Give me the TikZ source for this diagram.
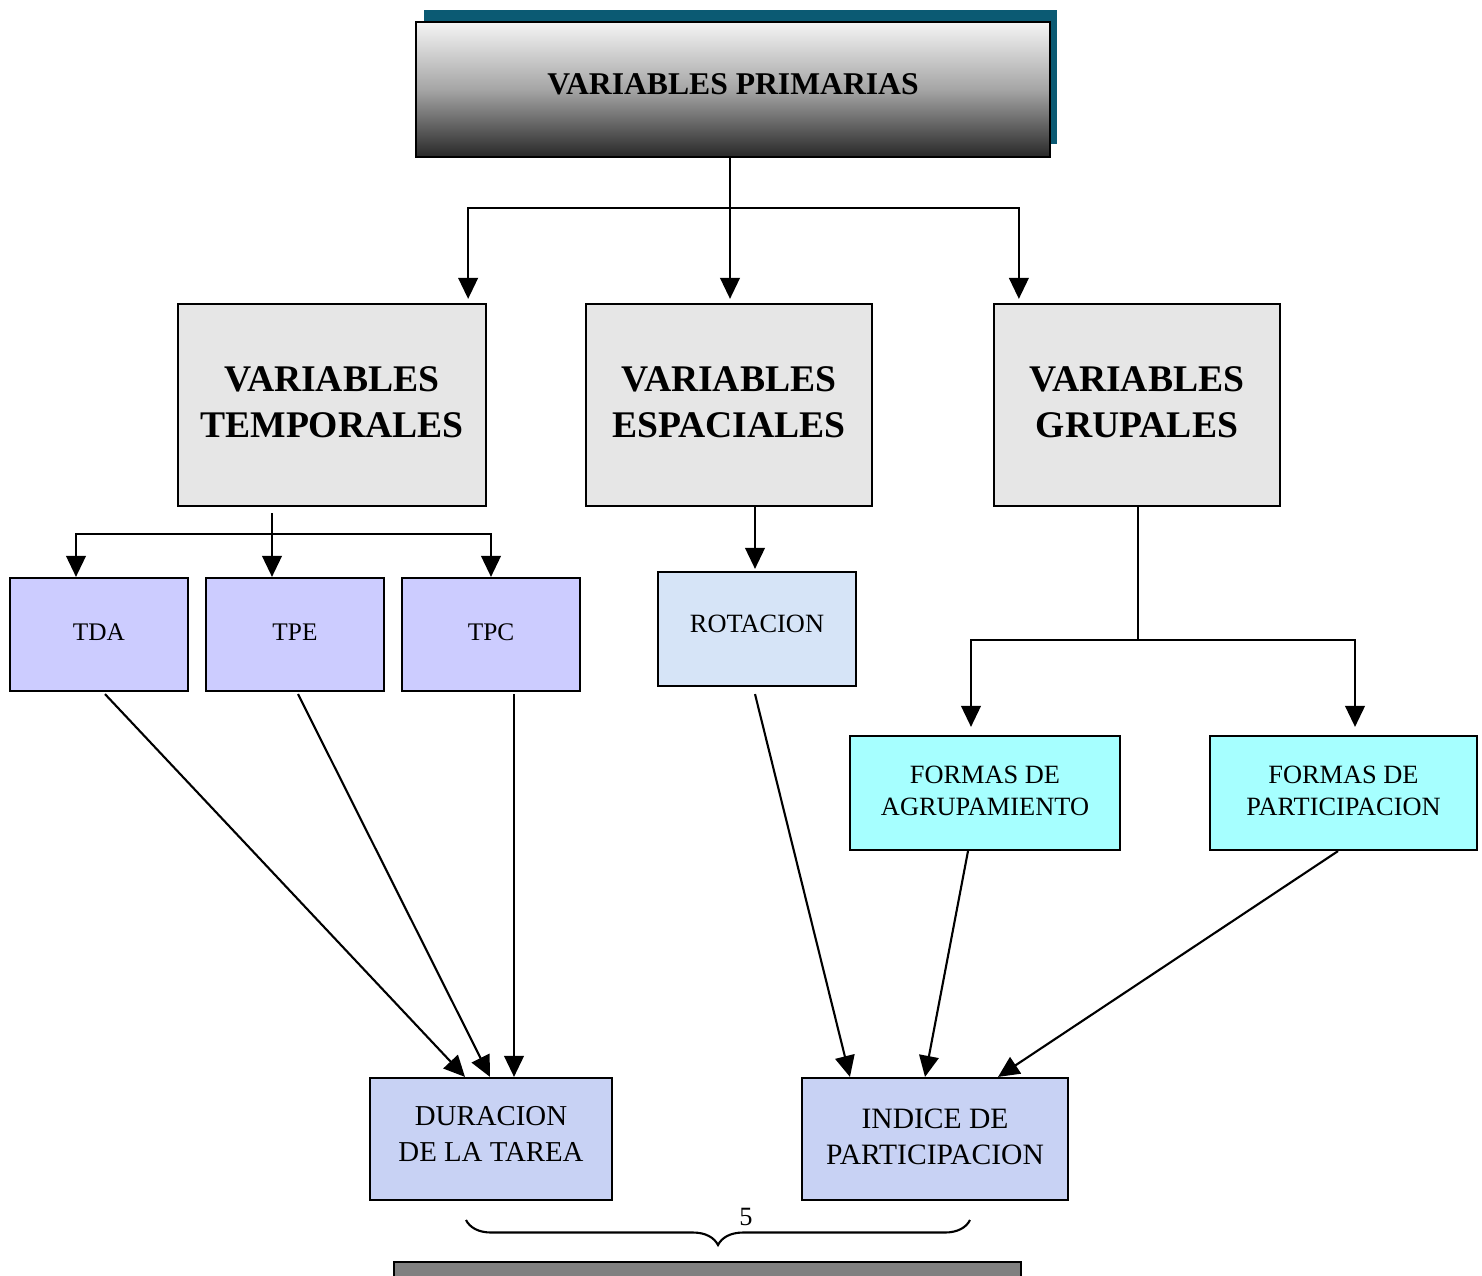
\documentclass[tikz,border=0pt]{standalone}
\usepackage{fontspec}
\setmainfont{Liberation Serif}
\usetikzlibrary{arrows.meta,decorations.pathreplacing}

\definecolor{shadowteal}{RGB}{11,90,115}
\definecolor{granite}{RGB}{230,230,230}
\definecolor{lilac}{RGB}{204,204,255}
\definecolor{iceblue}{RGB}{214,228,247}
\definecolor{aqua}{RGB}{166,255,255}
\definecolor{pastel}{RGB}{200,210,244}

% text raised inside its box
\newcommand{\lifted}[2]{\raisebox{#1}{\begin{tabular}{@{}c@{}}#2\end{tabular}}}

\begin{document}
\begin{tikzpicture}[x=0.01cm,y=-0.01cm,
    conn/.style={line width=0.6pt},
    arr/.style={conn, -{Triangle[length=6pt,width=5.6pt]}},
    box/.style={draw, line width=0.6pt, rectangle, inner sep=0pt, align=center},
    bigbox/.style={box, fill=granite, minimum height=2.02cm,
      font=\fontsize{10.7}{13}\selectfont\bfseries},
    tbox/.style={box, fill=lilac, minimum width=1.78cm, minimum height=1.13cm,
      font=\fontsize{7.2}{8.6}\selectfont},
    fbox/.style={box, fill=aqua, minimum height=1.14cm,
      font=\fontsize{7.5}{9.1}\selectfont},
    rbox/.style={box, fill=pastel, minimum height=1.22cm}]
  \useasboundingbox (0,0) rectangle (1482,1276);

  % top box with its shadow
  \fill[shadowteal] (424,10) rectangle (1057,144);
  \node[box, top color={rgb,255:red,245;green,245;blue,245},
    bottom color={rgb,255:red,40;green,40;blue,40},
    middle color={rgb,255:red,165;green,165;blue,165},
    minimum width=6.34cm, minimum height=1.35cm,
    font=\fontsize{9}{11}\selectfont\bfseries] (vp) at (733,89.5) {\lifted{0.17cm}{VARIABLES PRIMARIAS}};

  \node[bigbox, minimum width=3.08cm] (vt) at (332,405) {\lifted{0.12cm}{VARIABLES\\TEMPORALES}};
  \node[bigbox, minimum width=2.86cm] (ve) at (729,405) {\lifted{0.12cm}{VARIABLES\\ESPACIALES}};
  \node[bigbox, minimum width=2.86cm] (vg) at (1137,405) {\lifted{0.08cm}{VARIABLES\\GRUPALES}};

  \foreach \name/\x in {TDA/99,TPE/295,TPC/491}
    \node[tbox] (\name) at (\x,634.5) {\lifted{0.03cm}{\name}};

  \node[box, fill=iceblue, minimum width=1.98cm, minimum height=1.14cm,
    font=\fontsize{7.5}{9}\selectfont] (rot) at (757,629) {\lifted{0.16cm}{ROTACION}};
  \node[fbox, minimum width=2.70cm] (fa) at (985,793) {\lifted{0.08cm}{FORMAS DE\\AGRUPAMIENTO}};
  \node[fbox, minimum width=2.67cm] (fp) at (1343.5,793) {\lifted{0.08cm}{FORMAS DE\\PARTICIPACION}};

  \node[rbox, minimum width=2.42cm, font=\fontsize{8.2}{10.2}\selectfont] (dur) at (491,1139) {\lifted{0.34cm}{DURACION\\DE LA TAREA}};
  \node[rbox, minimum width=2.66cm, font=\fontsize{8.4}{10.4}\selectfont] (ind) at (935,1139) {\lifted{0.02cm}{INDICE DE\\PARTICIPACION}};

  % first level
  \coordinate (psplit) at (730,208);
  \draw[conn] (vp.south -| psplit) -- ([yshift=-0.12cm]psplit);
  \draw[arr] (psplit) -| ([xshift=-0.19cm,yshift=0.04cm]vt.north east);
  \draw[arr] (psplit) -- ([yshift=0.04cm]psplit |- ve.north);
  \draw[arr] (psplit) -| ([xshift=0.26cm,yshift=0.04cm]vg.north west);

  % temporales
  \coordinate (tsplit) at (272,534);
  \draw[conn] ([yshift=-0.06cm]tsplit |- vt.south) -- (tsplit);
  \draw[arr] (tsplit) -| ([xshift=-0.23cm]TDA.north);
  \draw[arr] (tsplit) -- (tsplit |- TPE.north);
  \draw[arr] (tsplit) -| (TPC.north);

  % espaciales
  \draw[arr] ([xshift=-0.02cm]rot.north |- ve.south) -- ([xshift=-0.02cm,yshift=0.02cm]rot.north);

  % grupales
  \coordinate (gsplit) at (1138,640);
  \draw[conn] (vg.south -| gsplit) -- (gsplit);
  \draw[arr] (gsplit) -| ([xshift=-0.14cm,yshift=0.08cm]fa.north);
  \draw[arr] (gsplit) -| ([xshift=0.115cm,yshift=0.08cm]fp.north);

  % hacia los indices
  \draw[arr] ([xshift=0.06cm,yshift=-0.02cm]TDA.south) -- ([xshift=-0.26cm]dur.north);
  \draw[arr] ([xshift=0.03cm,yshift=-0.02cm]TPE.south) -- ([xshift=-0.01cm]dur.north);
  \draw[arr] ([xshift=0.23cm,yshift=-0.02cm]TPC.south) -- ([xshift=0.23cm]dur.north);
  \draw[arr] ([xshift=-0.02cm,yshift=-0.07cm]rot.south) -- ([xshift=-0.85cm]ind.north);
  \draw[arr] ([xshift=-0.17cm]fa.south) -- ([xshift=-0.1cm]ind.north);
  \draw[arr] ([xshift=-0.055cm]fp.south) -- ([xshift=0.63cm]ind.north);

  % llave y barra inferior
  \coordinate (braceL) at (466,1220);
  \coordinate (braceR) at (970,1220);
  \draw[conn, decorate, decoration={brace, mirror, amplitude=0.25cm}] (braceL) -- (braceR);
  \node[font=\fontsize{7.5}{9}\selectfont] (five) at (746,1217) {5};
  \draw[line width=0.6pt, fill={rgb,255:red,128;green,128;blue,128}] (394,1262) rectangle (1021,1290);
\end{tikzpicture}
\end{document}
